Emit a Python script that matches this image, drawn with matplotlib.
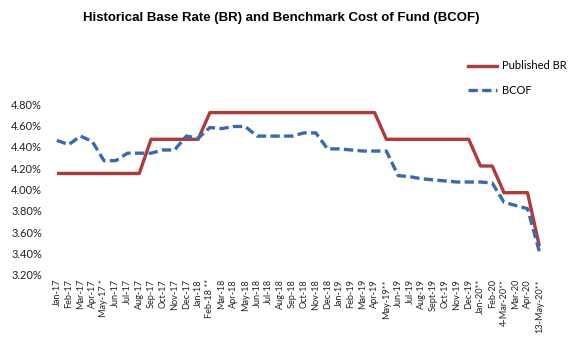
import numpy as np
import matplotlib.pyplot as plt
from matplotlib.lines import Line2D

# Data
# -----------------------
months = ['Jan-17', 'Feb-17', 'Mar-17', 'Apr-17', 'May-17 *', 'Jun-17', 'Jul-17',
          'Aug-17', 'Sep-17', 'Oct-17', 'Nov-17', 'Dec-17', 'Jan-18', 'Feb-18 **',
          'Mar-18', 'Apr-18', 'May-18', 'Jun-18', 'Jul-18', 'Aug-18', 'Sep-18',
          'Oct-18', 'Nov-18', 'Dec-18', 'Jan-19', 'Feb-19', 'Mar-19', 'Apr-19',
          'May-19**', 'Jun-19', 'Jul-19', 'Aug-19', 'Sept-19', 'Oct-19', 'Nov-19',
          'Dec-19', 'Jan-20**', 'Feb-20', '4-Mar-20**', 'Mar-20', 'Apr-20',
          '13-May-20**']

published_br = [4.15, 4.15, 4.15, 4.15, 4.15, 4.15, 4.15, 4.15,
                4.47, 4.47, 4.47, 4.47, 4.47,
                4.72, 4.72, 4.72, 4.72, 4.72, 4.72, 4.72, 4.72, 4.72, 4.72,
                4.72, 4.72, 4.72, 4.72, 4.72,
                4.47, 4.47, 4.47, 4.47, 4.47, 4.47, 4.47, 4.47,
                4.22, 4.22, 3.97, 3.97, 3.97, 3.47]

bcof = [4.46, 4.42, 4.50, 4.45, 4.27, 4.27, 4.34, 4.34, 4.34, 4.37, 4.37,
        4.50, 4.48, 4.58, 4.57, 4.59, 4.59, 4.50, 4.50, 4.50, 4.50, 4.53,
        4.53, 4.38, 4.38, 4.37, 4.36, 4.36, 4.36, 4.13, 4.12, 4.10, 4.09,
        4.08, 4.07, 4.07, 4.07, 4.06, 3.88, 3.85, 3.82, 3.42]

yTicks = [3.2, 3.4, 3.6, 3.8, 4.0, 4.2, 4.4, 4.6, 4.8]

# Styles
# ------
brColor = '#AE3A3A'
bcofColor = '#3A69B0'
dashStyle = (0, (2.8, 1.3))
plt.rcParams['font.family'] = ['Lato', 'DejaVu Sans']

fig = plt.figure(figsize=(5.8, 3.48), dpi=100)
ax = fig.add_axes([0.088, 0.210, 0.852, 0.491])

x = np.arange(len(months))
ax.plot(x, published_br, color=brColor, linewidth=2.4, solid_capstyle='butt', zorder=3)
ax.plot(x, bcof, color=bcofColor, linewidth=2.4, linestyle=dashStyle,
        dash_capstyle='butt', zorder=4)

ax.set_xlim(-0.5, len(months) - 0.5)
ax.set_ylim(3.2, 4.8)
ax.set_yticks(yTicks)
ax.set_yticklabels(['%.2f%%' % v for v in yTicks], fontsize=8, color='#222222')
ax.set_xticks(x)
ax.set_xticklabels(months, rotation=90, fontsize=6.6, color='#222222')
ax.tick_params(axis='x', length=0, pad=3)
ax.tick_params(axis='y', length=0, pad=6.5)
for s in ax.spines.values():
    s.set_visible(False)

# Title
fig.text(0.485, 0.948, 'Historical Base Rate (BR) and Benchmark Cost of Fund (BCOF)',
         ha='center', va='center', fontsize=9.5, fontweight='bold',
         family=['Liberation Sans Narrow', 'Liberation Sans'])

# Legend
handles = [Line2D([], [], color=brColor, linewidth=2.4),
           Line2D([], [], color=bcofColor, linewidth=2.4, linestyle=dashStyle)]
fig.legend(handles, ['Published BR', 'BCOF'], loc='upper left',
           bbox_to_anchor=(0.79, 0.855), frameon=False, fontsize=8,
           handlelength=2.6, handletextpad=0.4, labelspacing=1.2)

plt.savefig('out.png', dpi=100)
